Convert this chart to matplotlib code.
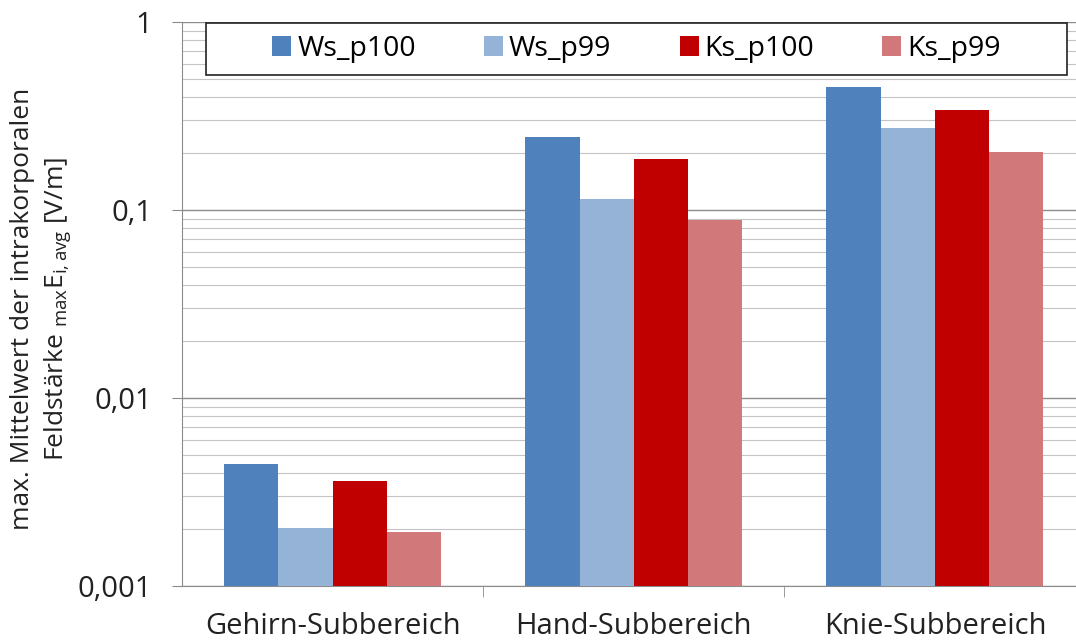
import numpy as np
import matplotlib
matplotlib.use('Agg')
import matplotlib.pyplot as plt
from matplotlib.patches import Rectangle
from matplotlib.ticker import LogLocator, FixedLocator, NullFormatter

# Data
categories = ['Gehirn-Subbereich', 'Hand-Subbereich', 'Knie-Subbereich']
series_names = ['Ws_p100', 'Ws_p99', 'Ks_p100', 'Ks_p99']
ws_p100 = [0.00446, 0.244, 0.451]
ws_p99 = [0.00204, 0.1145, 0.273]
ks_p100 = [0.00362, 0.187, 0.340]
ks_p99 = [0.00194, 0.0885, 0.204]
y_ticks = [0.001, 0.01, 0.1, 1]
y_tick_labels = ['0,001', '0,01', '0,1', '1']

colors = ['#4F81BD', '#95B3D7', '#C00000', '#D0787A']
values = [ws_p100, ws_p99, ks_p100, ks_p99]

plt.rcParams['font.family'] = ['Open Sans', 'DejaVu Sans']
plt.rcParams['mathtext.fontset'] = 'custom'
plt.rcParams['mathtext.rm'] = 'Open Sans'

W, H = 1076, 642
fig = plt.figure(figsize=(W / 100, H / 100), dpi=100)
ax = fig.add_axes([182 / W, 1 - 586 / H, (1085.5 - 182) / W, (586 - 22) / H])

x = np.arange(len(categories))
bar_w = 0.18
for i, (name, vals, c) in enumerate(zip(series_names, values, colors)):
    ax.bar(x + (i - 1.5) * bar_w, vals, width=bar_w, color=c, label=name, zorder=3)

ax.set_yscale('log')
ax.set_ylim(0.001, 1)
ax.set_xlim(-0.5, 2.5)

# gridlines
ax.yaxis.set_major_locator(FixedLocator(y_ticks))
ax.set_yticklabels(y_tick_labels, fontsize=21, color='#222222')
ax.yaxis.set_minor_locator(LogLocator(base=10, subs=np.arange(2, 10)))
ax.yaxis.set_minor_formatter(NullFormatter())
ax.grid(which='major', axis='y', color='#8c8c8c', linewidth=1.0, zorder=0)
ax.grid(which='minor', axis='y', color='#c4c4c4', linewidth=0.8, zorder=0)
ax.tick_params(axis='y', which='major', length=7.5, color='#8c8c8c', pad=14)
ax.tick_params(axis='y', which='minor', length=0)

# x axis: labels at centers, ticks at category boundaries
ax.set_xticks(x)
ax.set_xticklabels(categories, fontsize=21, color='#222222')
ax.tick_params(axis='x', which='major', length=0, pad=19)
ax.set_xticks([0.5, 1.5], minor=True)
ax.tick_params(axis='x', which='minor', length=8, color='#8c8c8c')

for s in ['top', 'right']:
    ax.spines[s].set_visible(False)
ax.spines['left'].set_color('#8c8c8c')
ax.spines['bottom'].set_color('#8c8c8c')

ax.set_ylabel('max. Mittelwert der intrakorporalen\nFeldstärke $_{\\mathregular{max}}$E$_{\\mathregular{i,avg}}$ [V/m]',
              fontsize=19, color='#222222', linespacing=1.38)
ax.yaxis.set_label_coords((74 - 182) / 903.5, 0.492)

# legend frame drawn separately so the entries can stay centred
ax.add_patch(Rectangle((206 / W, 1 - 75 / H), (1067 - 206) / W, 52 / H,
                       transform=fig.transFigure, facecolor='white',
                       edgecolor='#222222', linewidth=1.2, zorder=8, clip_on=False))
leg = ax.legend(loc='center', bbox_to_anchor=((206 + 1067) / 2 / W, 1 - 49 / H),
                bbox_transform=fig.transFigure, ncol=4, fontsize=20.5,
                frameon=False, handlelength=0.67, handleheight=0.67,
                handletextpad=0.2, columnspacing=2.4, borderaxespad=0)
leg.set_zorder(10)

fig.savefig('out.png', dpi=100)
